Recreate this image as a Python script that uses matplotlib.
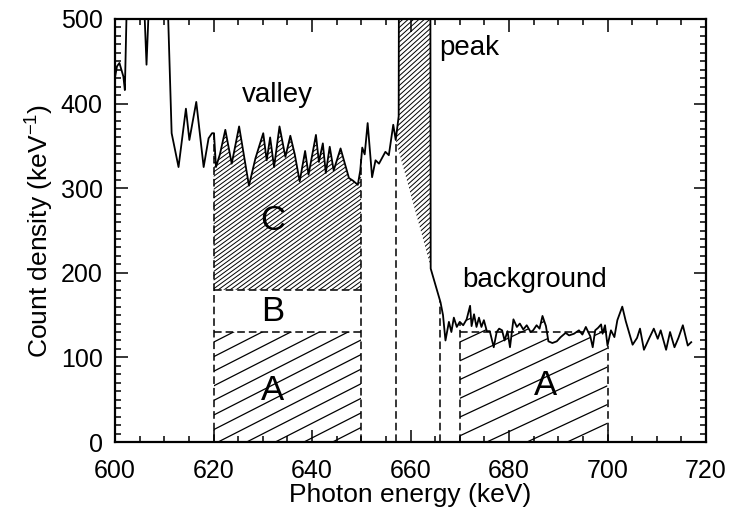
import numpy as np
import matplotlib
matplotlib.use('Agg')
import matplotlib.pyplot as plt
from matplotlib.collections import LineCollection
from matplotlib.patches import PathPatch
from matplotlib.ticker import MultipleLocator

plt.rcParams['font.family'] = ['Liberation Sans', 'DejaVu Sans']
plt.rcParams['mathtext.fontset'] = 'custom'
plt.rcParams['mathtext.rm'] = 'Liberation Sans'

# spectrum (keV, counts per keV); values above 500 run off the top
energy = [600.0, 600.4, 600.9, 601.4, 601.7, 602.0, 602.4, 605.9, 606.4, 606.9,
          610.7, 611.5, 612.9, 614.4, 615.1, 616.5, 618.0, 619.0, 619.7, 620.1,
          620.5, 621.3, 622.4, 623.7, 625.2, 626.0, 627.2, 628.5, 630.1, 630.8,
          631.5, 632.3, 633.4, 634.6, 635.6, 636.5, 637.5, 638.6, 639.3, 640.8,
          641.4, 642.2, 642.8, 643.6, 644.4, 645.8, 647.5, 648.3, 649.3, 649.8,
          650.2, 650.7, 651.3, 652.2, 652.9, 653.6, 654.9, 655.6, 656.5, 657.0,
          657.6, 657.7, 664.0, 664.1, 664.6, 666.1, 666.6, 667.1, 667.8, 668.3,
          668.8, 669.4, 670.0, 670.7, 671.4, 672.1, 672.4, 672.9, 673.4, 673.9,
          674.4, 674.9, 675.5, 676.1, 676.9, 677.5, 678.0, 678.6, 679.1, 679.7,
          680.2, 680.9, 681.6, 682.2, 682.9, 683.6, 684.4, 684.9, 685.6, 686.2,
          686.8, 687.5, 688.0, 688.8, 689.7, 690.5, 691.5, 692.2, 693.2, 694.2,
          694.9, 695.6, 696.5, 697.0, 697.5, 698.1, 698.7, 699.0, 699.5, 700.0,
          700.7, 701.4, 702.0, 703.0, 703.7, 704.4, 705.1, 706.0, 706.6, 707.4,
          708.5, 709.4, 710.2, 710.8, 711.9, 712.7, 713.6, 714.4, 715.3, 716.3,
          717.0]
counts = [431, 444, 448, 438, 432, 416, 520, 520, 446, 520,
          520, 365, 325, 394, 357, 402, 325, 359, 365, 365,
          325, 340, 369, 329, 373, 345, 303, 335, 365, 333,
          360, 325, 373, 337, 362, 340, 308, 344, 316, 363,
          331, 353, 318, 349, 321, 347, 312, 309, 304, 321,
          348, 340, 377, 313, 333, 329, 343, 339, 375, 357,
          385, 700, 700, 205, 195, 165, 150, 120, 142, 130,
          147, 136, 142, 138, 145, 161, 137, 151, 136, 147,
          136, 144, 131, 131, 112, 130, 134, 132, 120, 131,
          112, 145, 136, 140, 133, 138, 130, 132, 138, 134,
          149, 137, 119, 117, 119, 124, 129, 126, 128, 132,
          127, 136, 125, 112, 132, 135, 139, 128, 138, 114,
          132, 124, 144, 160, 143, 129, 115, 123, 134, 109,
          123, 134, 122, 132, 109, 130, 112, 123, 138, 114,
          118]

valley_win = [620, 650]
peak_win = [657, 666]
bkg_win = [670, 700]
level_a = 130
level_b = 180

energy = np.array(energy)
counts = np.array(counts)


def curve(x):
    return np.interp(x, energy, counts)


fig = plt.figure(figsize=(7.34, 5.14), dpi=100)
ax = fig.add_axes([115 / 734, 1 - 442 / 514, 591 / 734, 423 / 514])
ax.set_xlim(600, 720)
ax.set_ylim(0, 500)


def hatch(xs, lo, hi, angle, gap_px, lw):
    poly = ax.fill_between(xs, lo, hi, facecolor='none', edgecolor='none', lw=0)
    clip = PathPatch(poly.get_paths()[0], transform=ax.transData,
                     facecolor='none', edgecolor='none')
    ax.add_patch(clip)
    p0 = ax.transData.transform((600, 0))
    p1 = ax.transData.transform((720, 500))
    sx = (p1[0] - p0[0]) / 120.0
    sy = (p1[1] - p0[1]) / 500.0
    slope = np.tan(np.radians(angle)) * sx / sy
    dy = gap_px / np.cos(np.radians(angle)) / sy
    xa, xb = xs.min(), xs.max()
    start = np.min(lo) - slope * (xb - xa)
    segs = [[(xa, c), (xb, c + slope * (xb - xa))]
            for c in np.arange(start, np.max(hi) + dy, dy)]
    lc = LineCollection(segs, colors='black', linewidths=lw)
    ax.add_collection(lc, autolim=False)
    lc.set_clip_path(clip)


# valley: A (sparse), C (dense, up to the spectrum)
xv = np.linspace(valley_win[0], valley_win[1], 400)
hatch(xv, np.zeros_like(xv), np.full_like(xv, level_a), 27, 13, 0.9)
hatch(xv, np.full_like(xv, level_b), curve(xv), 36, 3.5, 0.7)

# peak above the straight background line
xp = np.linspace(peak_win[0], peak_win[1], 400)
base = np.interp(xp, peak_win, curve(np.array(peak_win)))
hatch(xp, base, np.maximum(curve(xp), base), 42, 3.6, 0.7)

# background A under the spectrum
xb = np.linspace(bkg_win[0], bkg_win[1], 400)
hatch(xb, np.zeros_like(xb), curve(xb), 25, 17, 0.9)

ax.plot(energy, counts, color='black', lw=1.3)

dash = dict(colors='black', linewidths=1.1, linestyles=(0, (5, 2.6)))
edges = np.array(valley_win + peak_win + bkg_win, dtype=float)
ax.vlines(edges, 0, curve(edges), **dash)
ax.hlines([level_a, level_b], valley_win[0], valley_win[1], **dash)
ax.hlines(level_a, bkg_win[0], bkg_win[1], **dash)

ax.text(633, 410, 'valley', fontsize=20, ha='center', va='center')
ax.text(672, 466, 'peak', fontsize=20, ha='center', va='center')
ax.text(685.2, 191, 'background', fontsize=20, ha='center', va='center')
ax.text(632, 262, 'C', fontsize=25, ha='center', va='center')
ax.text(632, 154, 'B', fontsize=25, ha='center', va='center')
ax.text(632, 61, 'A', fontsize=25, ha='center', va='center')
ax.text(687.4, 67, 'A', fontsize=25, ha='center', va='center')

ax.set_xticks(range(600, 721, 20))
ax.set_yticks(range(0, 501, 100))
ax.xaxis.set_minor_locator(MultipleLocator(5))
ax.yaxis.set_minor_locator(MultipleLocator(10))
ax.tick_params(which='both', direction='in', top=True, right=True,
               labelsize=18, width=1.1)
ax.tick_params(which='major', length=9, pad=9)
ax.tick_params(axis='x', which='major', pad=12)
ax.tick_params(which='minor', length=4.5)
for s in ax.spines.values():
    s.set_linewidth(1.6)

ax.set_xlabel('Photon energy (keV)', fontsize=19, labelpad=0)
ax.set_ylabel(r'Count density (keV$^{\mathregular{-1}}$)', fontsize=19, labelpad=4)

fig.savefig('out.png', dpi=100)
